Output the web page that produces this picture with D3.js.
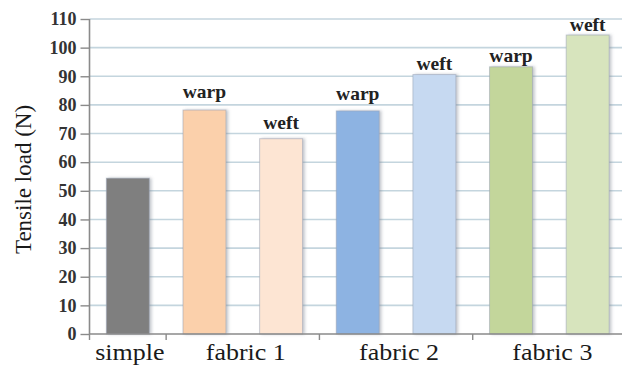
<!DOCTYPE html>
<html>
<head>
<meta charset="utf-8">
<script src="https://cdn.jsdelivr.net/npm/d3@7"></script>
<style>
  html, body { margin: 0; padding: 0; background: #fff; }
  svg { display: block; }
  svg text { font-family: "Liberation Serif", "Times New Roman", Times, serif; }
</style>
</head>
<body>
<svg id="chart" width="622" height="367"></svg>
<script>
// Tensile load per sample: one plain sample and warp/weft for three fabrics
const groups = ["simple", "fabric 1", "fabric 2", "fabric 3"];
const barGroup = ["simple", "fabric 1", "fabric 1", "fabric 2", "fabric 2", "fabric 3", "fabric 3"];
const barLabel = ["", "warp", "weft", "warp", "weft", "warp", "weft"];
const loadN = [54.4, 78.2, 68.2, 77.9, 90.6, 93.3, 104.4];
const yTicks = [0, 10, 20, 30, 40, 50, 60, 70, 80, 90, 100, 110];
const yTitle = "Tensile load (N)";

const barColors = ["#7f7f7f", "#fbd0ab", "#fde5d3", "#8db3e2", "#c6d9f1", "#c3d69b", "#d7e4bd"];
// small vertical gaps between a bar top and its warp/weft caption
const captionGap = [0, 12, 10, 11, 4.5, 5, 4];

const svg = d3.select("#chart");
const serif = "\"Liberation Serif\", \"Times New Roman\", Times, serif";

const plotLeft = 89.5, plotBottom = 334, plotTop = 19, plotRight = 626;

const x = d3.scaleBand()
  .domain(d3.range(loadN.length))
  .range([plotLeft, plotRight])
  .paddingInner(0.44)
  .paddingOuter(0.22);

const y = d3.scaleLinear().domain([0, 110]).range([plotBottom, plotTop]);

const defs = svg.append("defs");
const f = defs.append("filter").attr("id", "barShadow")
  .attr("x", "-20%").attr("y", "-10%").attr("width", "150%").attr("height", "120%");
f.append("feDropShadow")
  .attr("dx", 2).attr("dy", 0).attr("stdDeviation", 1.4)
  .attr("flood-color", "#7a8290").attr("flood-opacity", 0.45);

// horizontal gridlines
svg.append("g")
  .selectAll("line")
  .data(yTicks.filter(d => d > 0))
  .join("line")
  .attr("x1", plotLeft).attr("x2", 622)
  .attr("y1", d => y(d)).attr("y2", d => y(d))
  .attr("stroke", "#c4d5de")
  .attr("stroke-width", 1.6);

// bars
svg.append("g")
  .selectAll("rect")
  .data(loadN)
  .join("rect")
  .attr("x", (d, i) => x(i))
  .attr("y", d => y(d))
  .attr("width", x.bandwidth())
  .attr("height", d => y(0) - y(d))
  .attr("fill", (d, i) => barColors[i])
  .attr("stroke", "#9aa4b6")
  .attr("stroke-opacity", 0.55)
  .attr("stroke-width", 1)
  .attr("filter", "url(#barShadow)");

// y axis
const yAxis = d3.axisLeft(y)
  .tickValues(yTicks)
  .tickSize(9)
  .tickPadding(4)
  .tickFormat(d3.format("d"));

const gy = svg.append("g")
  .attr("transform", `translate(${plotLeft},0)`)
  .call(yAxis)
  .attr("font-family", null)
  .attr("font-size", null);
gy.select(".domain").attr("stroke", "#8a8a8a").attr("stroke-width", 1.6)
  .attr("d", `M0,${plotTop}V${plotBottom}`);
gy.selectAll(".tick line").attr("stroke", "#8a8a8a").attr("stroke-width", 1.4);
gy.selectAll(".tick text")
  .style("font-family", serif)
  .style("font-size", "18px")
  .style("font-weight", "bold")
  .attr("fill", "#333");

// x axis with group boundaries
const halfGap = (x.step() - x.bandwidth()) / 2;
const barsOf = g => barGroup.map((b, i) => b === g ? i : -1).filter(i => i >= 0);
const boundaries = groups.map(g => x(barsOf(g)[0]) - halfGap);
boundaries.push(x(loadN.length - 1) + x.bandwidth() + halfGap);

const gx = svg.append("g");
gx.append("line")
  .attr("x1", plotLeft).attr("x2", 622)
  .attr("y1", y(0)).attr("y2", y(0))
  .attr("stroke", "#8a8a8a").attr("stroke-width", 1.6);
gx.selectAll("line.tick")
  .data(boundaries)
  .join("line")
  .attr("class", "tick")
  .attr("x1", d => d).attr("x2", d => d)
  .attr("y1", y(0)).attr("y2", y(0) + 6)
  .attr("stroke", "#8a8a8a").attr("stroke-width", 1.4);

// group labels
const groupCenter = g => d3.mean(barsOf(g), i => x(i) + x.bandwidth() / 2);
gx.selectAll("text")
  .data(groups)
  .join("text")
  .attr("transform", g => `translate(${groupCenter(g) + (g === "simple" ? 2 : 3)},${y(0) + 26}) scale(1.13,1)`)
  .attr("text-anchor", "middle")
  .style("font-family", serif)
  .style("font-size", "23px")
  .attr("fill", "#1a1a1a")
  .text(g => g);

// warp / weft captions
svg.append("g")
  .selectAll("text")
  .data(loadN)
  .join("text")
  .attr("x", (d, i) => x(i) + x.bandwidth() / 2)
  .attr("y", (d, i) => y(d) - captionGap[i])
  .attr("text-anchor", "middle")
  .style("font-family", serif)
  .style("font-size", "19.5px")
  .style("font-weight", "bold")
  .attr("fill", "#222")
  .text((d, i) => barLabel[i]);

// y axis title
svg.append("text")
  .attr("transform", `translate(31,${(plotTop + plotBottom) / 2 + 3}) rotate(-90)`)
  .attr("text-anchor", "middle")
  .style("font-family", serif)
  .style("font-size", "23px")
  .attr("fill", "#1a1a1a")
  .text(yTitle);
</script>
</body>
</html>
